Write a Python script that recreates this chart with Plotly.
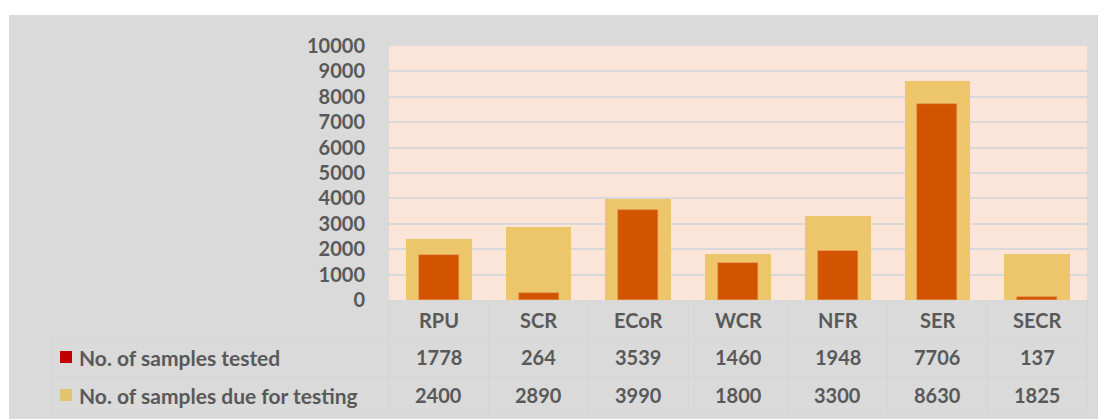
import plotly.graph_objects as go

categories = ["RPU", "SCR", "ECoR", "WCR", "NFR", "SER", "SECR"]
tested = [1778, 264, 3539, 1460, 1948, 7706, 137]
due = [2400, 2890, 3990, 1800, 3300, 8630, 1825]
series_names = ["No. of samples tested", "No. of samples due for testing"]
y_ticks = list(range(0, 10001, 1000))
y_tick_text = [str(v) for v in y_ticks]

OFF = 8  # page body margin
W, H = 1106 - OFF, 419 - OFF
PL, PR, PT, PB = 389, 1087, 46, 300
L, T = PL - OFF, PT - OFF
R = (W + OFF) - PR
B = (H + OFF) - PB
pw, ph = PR - PL, PB - PT

def px_x(px):
    return (px - PL) / pw

def px_y(py):
    return (PB - py) / ph

FONT = "Lato"
TXT = "#595959"
GREY = "#dadada"
LINE = "#d4d4d4"

fig = go.Figure()
fig.add_trace(go.Bar(x=categories, y=due, width=0.66, marker=dict(color="#EDC66B", line=dict(width=0)),
                     name=series_names[1], showlegend=False))
fig.add_trace(go.Bar(x=categories, y=tested, width=0.4, marker=dict(color="#D35400", line=dict(color="#E08A50", width=0.5)),
                     name=series_names[0], showlegend=False))

shapes = []
shapes.append(dict(type="rect", xref="paper", yref="paper", x0=px_x(9), x1=px_x(1120),
                   y0=px_y(430), y1=px_y(15), fillcolor=GREY, line=dict(width=0), layer="below"))
shapes.append(dict(type="rect", xref="paper", yref="paper", x0=0, x1=1, y0=0, y1=1,
                   fillcolor="#FBE5D8", line=dict(width=0), layer="below"))

row_tops = [300, 339, 377, 414]
n = len(categories)
for k in range(n + 1):
    xx = px_x(PL + k * pw / n)
    shapes.append(dict(type="line", xref="paper", yref="paper", x0=xx, x1=xx,
                       y0=px_y(414), y1=px_y(300), line=dict(color=LINE, width=1), layer="below"))
xx = px_x(52)
shapes.append(dict(type="line", xref="paper", yref="paper", x0=xx, x1=xx,
                   y0=px_y(414), y1=px_y(339), line=dict(color=LINE, width=1), layer="below"))
for yy in row_tops[1:]:
    shapes.append(dict(type="line", xref="paper", yref="paper", x0=px_x(52), x1=1,
                       y0=px_y(yy), y1=px_y(yy), line=dict(color=LINE, width=1), layer="below"))

leg_colors = ["#C00000", "#E2C370"]
row_centers = [357, 395]
for c, yc in zip(leg_colors, row_centers):
    shapes.append(dict(type="rect", xref="paper", yref="paper", x0=px_x(60), x1=px_x(72),
                       y0=px_y(yc + 6), y1=px_y(yc - 6), fillcolor=c, line=dict(width=0)))

annotations = []
for cat in categories:
    annotations.append(dict(x=cat, y=px_y(320), xref="x", yref="paper", text=cat, showarrow=False,
                            font=dict(family=FONT, size=20, color=TXT, weight="bold"), xanchor="center", yanchor="middle"))
for vals, yc in zip([tested, due], row_centers):
    for cat, v in zip(categories, vals):
        annotations.append(dict(x=cat, y=px_y(yc), xref="x", yref="paper", text=str(v), showarrow=False,
                                font=dict(family=FONT, size=20, color=TXT, weight="bold"), xanchor="center", yanchor="middle"))
for name, yc in zip(series_names, row_centers):
    annotations.append(dict(x=px_x(77), y=px_y(yc), xref="paper", yref="paper", text=name, showarrow=False,
                            font=dict(family=FONT, size=21, color=TXT, weight="bold"), xanchor="left", yanchor="middle"))

fig.update_layout(
    width=W, height=H,
    margin=dict(l=L, r=R, t=T, b=B, pad=0),
    paper_bgcolor="white", plot_bgcolor="#FBE5D8",
    barmode="overlay", bargap=0,
    shapes=shapes, annotations=annotations,
    xaxis=dict(showticklabels=False, showgrid=False, zeroline=False, showline=False, ticks="",
               range=[-0.5, n - 0.5]),
    yaxis=dict(range=[0, 10000], tickvals=y_ticks, ticktext=y_tick_text, showgrid=True, gridcolor="#D9D9D9", gridwidth=1.5,
               zeroline=False, showline=False, ticks="outside", ticklen=19, tickcolor="rgba(0,0,0,0)",
               tickfont=dict(family=FONT, size=20, color=TXT, weight="bold")),
)

fig.write_html("out.html")
